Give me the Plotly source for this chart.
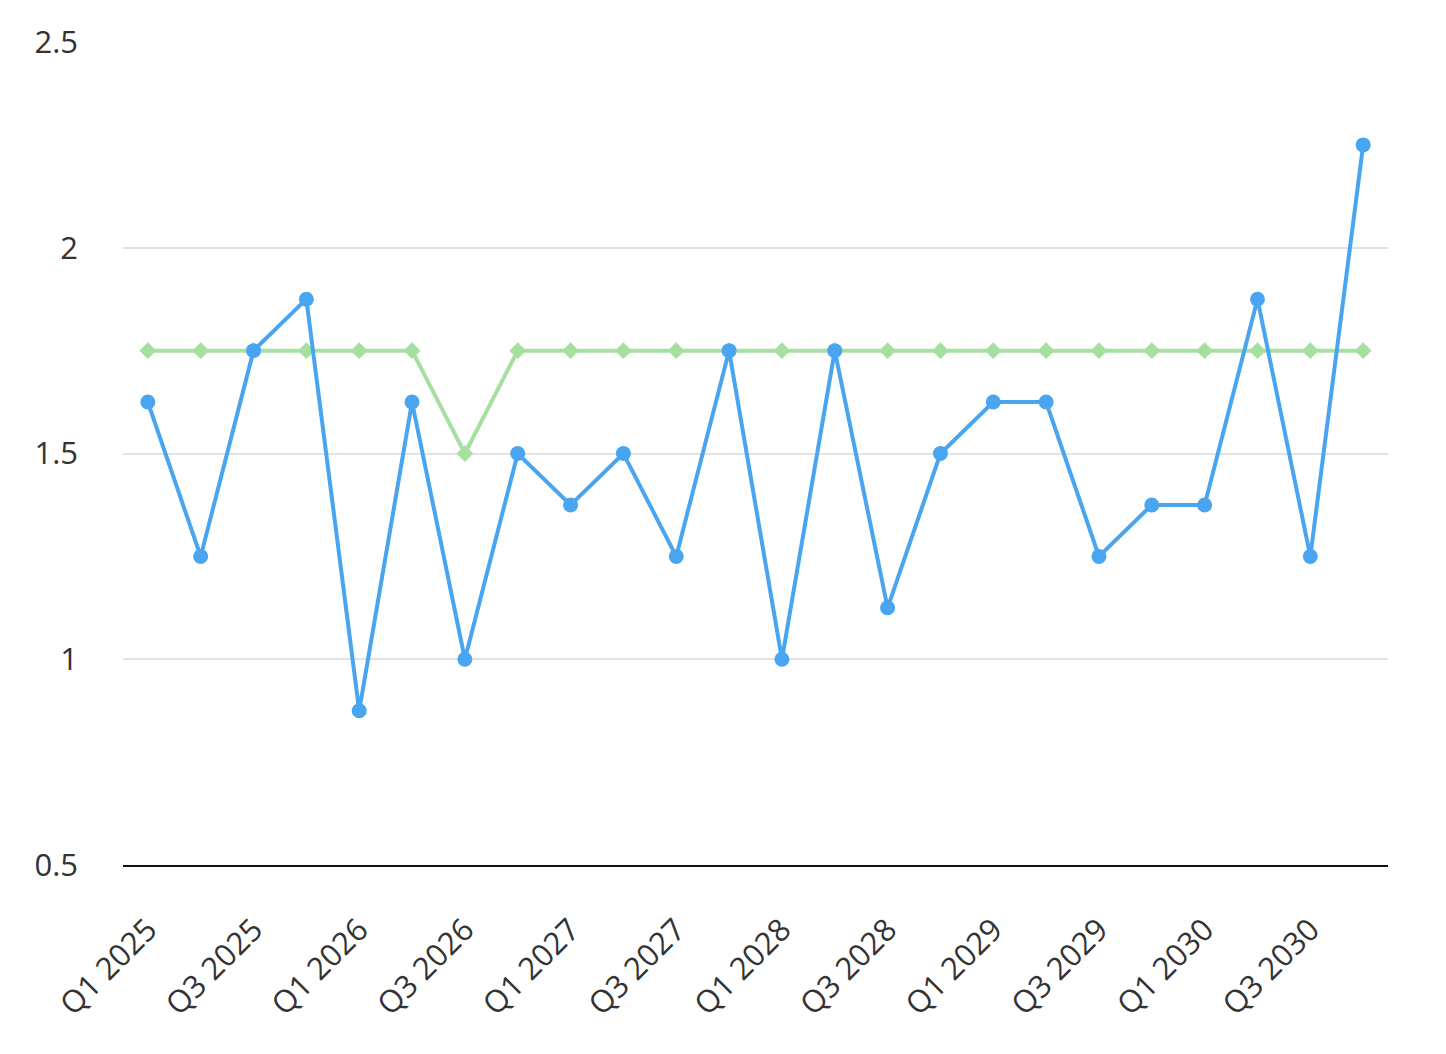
import plotly.graph_objects as go

quarters = [f"Q{q} {y}" for y in range(2025, 2031) for q in range(1, 5)]
actual = [1.625, 1.25, 1.75, 1.875, 0.875, 1.625, 1.0, 1.5, 1.375, 1.5, 1.25, 1.75,
          1.0, 1.75, 1.125, 1.5, 1.625, 1.625, 1.25, 1.375, 1.375, 1.875, 1.25, 2.25]
target = [1.75, 1.75, 1.75, 1.75, 1.75, 1.75, 1.5, 1.75, 1.75, 1.75, 1.75, 1.75,
          1.75, 1.75, 1.75, 1.75, 1.75, 1.75, 1.75, 1.75, 1.75, 1.75, 1.75, 1.75]
y_ticks = [0.5, 1, 1.5, 2, 2.5]
y_tick_text = ["0.5", "1", "1.5", "2", "2.5"]

fig = go.Figure()
fig.add_trace(go.Scatter(
    x=list(range(len(quarters))), y=target, mode="lines+markers",
    line=dict(color="#a6e0a0", width=4),
    marker=dict(symbol="diamond", size=13, color="#a6e0a0"),
    showlegend=False))
fig.add_trace(go.Scatter(
    x=list(range(len(quarters))), y=actual, mode="lines+markers",
    line=dict(color="#4aa5f0", width=4),
    marker=dict(symbol="circle", size=15, color="#4aa5f0"),
    showlegend=False))

fig.update_layout(
    width=1446, height=1054,
    margin=dict(l=115, r=66, t=27, b=197),
    plot_bgcolor="white", paper_bgcolor="white",
    font=dict(family="Open Sans, Noto Sans, sans-serif", size=31, color="#333333"),
    xaxis=dict(
        tickmode="array",
        tickvals=list(range(0, len(quarters), 2)),
        ticktext=quarters[::2],
        tickangle=-45,
        range=[-0.47, len(quarters) - 0.53],
        showgrid=False, zeroline=False,
        showline=True, linecolor="#111111", linewidth=2,
        ticks="", ticklabelstandoff=32,
    ),
    yaxis=dict(
        tickmode="array", tickvals=y_ticks, ticktext=y_tick_text,
        range=[0.5, 2.5],
        showgrid=True, gridcolor="#e3e3e3", gridwidth=2,
        zeroline=False, showline=False, ticks="",
        ticklabelstandoff=44,
    ),
)

fig.write_html("out.html")
